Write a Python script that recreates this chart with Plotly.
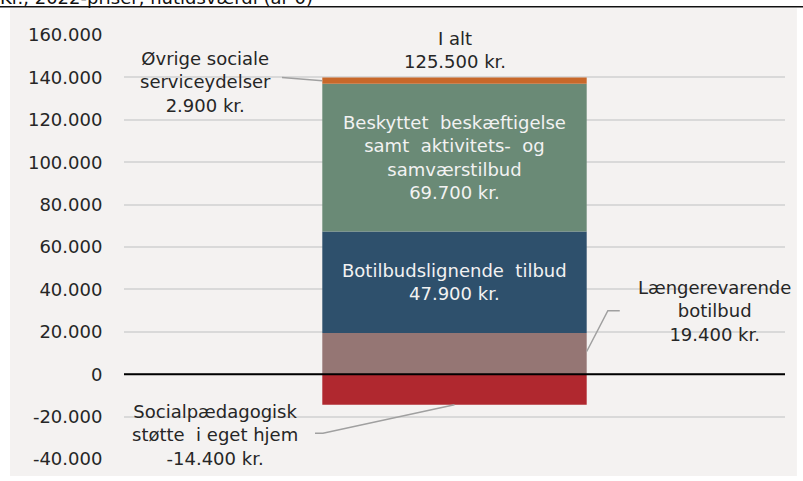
import plotly.graph_objects as go

# ---- data ----
SEGMENT_NAMES = [
    "Længerevarende botilbud",
    "Botilbudslignende\u00a0 tilbud",
    "Beskyttet\u00a0 beskæftigelse<br>samt\u00a0 aktivitets-\u00a0 og<br>samværstilbud",
    "Øvrige sociale<br>serviceydelser",
    "Socialpædagogisk<br>støtte\u00a0 i eget hjem",
]
SEGMENT_VALUES = [19400, 47900, 69700, 2900, -14400]
SEGMENT_COLORS = ["#957674", "#2e506c", "#6a8a76", "#c8682a", "#b0282f"]
TOTAL_LABEL = "I alt"
TITLE_TEXT = "Kr., 2022-priser, nutidsværdi (år 0)"
TICK_VALUES = [-40000, -20000, 0, 20000, 40000, 60000, 80000, 100000, 120000, 140000, 160000]
TICK_LABELS = ["-40.000", "-20.000", "0", "20.000", "40.000", "60.000", "80.000",
               "100.000", "120.000", "140.000", "160.000"]

FONT = "DejaVu Sans"
TXT = "#262626"
LEAD = "#a0a0a0"
BAR_W = 0.4


def kr(v):
    return f"{v:,}".replace(",", ".") + " kr."


fig = go.Figure()
for name, val, col in zip(SEGMENT_NAMES, SEGMENT_VALUES, SEGMENT_COLORS):
    fig.add_trace(go.Bar(x=[0], y=[val], name=name, marker=dict(color=col, line=dict(width=0)),
                         width=BAR_W, hoverinfo="skip"))

# cumulative positions (from data)
bottoms, tops = [], []
pos = 0
for v in SEGMENT_VALUES:
    if v >= 0:
        bottoms.append(pos); tops.append(pos + v); pos += v
    else:
        bottoms.append(v); tops.append(0)
total = sum(SEGMENT_VALUES)
half = BAR_W / 2

ann = []
# inside labels
for i in (1, 2):
    ann.append(dict(x=0, y=(bottoms[i] + tops[i]) / 2, text=SEGMENT_NAMES[i] + "<br>" + kr(SEGMENT_VALUES[i]),
                    font=dict(color="#f2f2f2")))
# outside labels
ann.append(dict(x=0, y=152700, text=TOTAL_LABEL + "<br>" + kr(total), font=dict(color=TXT)))
ann.append(dict(x=-0.377, y=137900, text=SEGMENT_NAMES[3] + "<br>" + kr(SEGMENT_VALUES[3]), font=dict(color=TXT)))
ann.append(dict(x=0.394, y=29950, text="Længerevarende<br>botilbud<br>" + kr(SEGMENT_VALUES[0]), font=dict(color=TXT)))
ann.append(dict(x=-0.362, y=-28700, text=SEGMENT_NAMES[4] + "<br>" + kr(SEGMENT_VALUES[4]), font=dict(color=TXT)))
for a in ann:
    a.update(xref="x", yref="y", showarrow=False, xanchor="center", yanchor="middle", align="center")
    a["font"].update(family=FONT, size=18)
# title (cut off at the top, as in the reference)
ann.append(dict(x=-0.19, y=1.0585, xref="paper", yref="paper", xanchor="left", yanchor="bottom",
                showarrow=False, text=TITLE_TEXT, font=dict(family=FONT, size=18, color="#111111")))

shapes = [
    # grey panel
    dict(type="rect", xref="paper", yref="paper", x0=-0.1725, x1=1.018, y0=-0.04, y1=1.063,
         fillcolor="#f4f2f1", line=dict(width=0), layer="below"),
    # top rule
    dict(type="line", xref="paper", yref="paper", x0=-0.2, x1=1.03, y0=1.0665, y1=1.0665,
         line=dict(color="#111111", width=1.5)),
    # zero line above bars
    dict(type="line", xref="paper", yref="y", x0=0, x1=1, y0=0, y1=0,
         line=dict(color="#000000", width=2), layer="above"),
    # leaders
    dict(type="path", xref="x", yref="y",
         path=f"M -0.261 139900 L {-half} {(bottoms[3] + tops[3]) / 2}",
         line=dict(color=LEAD, width=1.5)),
    dict(type="path", xref="x", yref="y",
         path=f"M {half} {(bottoms[0] + tops[0]) / 2 + 1000} L 0.232 29950 L 0.25 29950",
         line=dict(color=LEAD, width=1.5)),
    dict(type="path", xref="x", yref="y",
         path=f"M -0.211 -27800 L -0.199 -27800 L 0 {bottoms[4]}",
         line=dict(color=LEAD, width=1.5)),
]

fig.update_layout(
    width=803, height=481, autosize=False,
    margin=dict(l=124, r=18, t=35, b=20),
    barmode="relative", showlegend=False,
    paper_bgcolor="#ffffff", plot_bgcolor="rgba(0,0,0,0)",
    font=dict(family=FONT, size=18, color=TXT),
    annotations=ann, shapes=shapes,
    xaxis=dict(range=[-0.5, 0.5], visible=False, fixedrange=True),
    yaxis=dict(range=[-40000, 160000], tickvals=TICK_VALUES, ticktext=TICK_LABELS,
               showgrid=True, gridcolor="#d9d9d9", gridwidth=1.5, zeroline=False,
               showline=False, ticks="outside", ticklen=17, tickcolor="rgba(0,0,0,0)",
               tickfont=dict(family=FONT, size=18, color=TXT), fixedrange=True),
)

fig.write_html("out.html", config={"displayModeBar": False},
               post_script="document.body.style.margin='0';document.body.style.overflow='hidden';")
